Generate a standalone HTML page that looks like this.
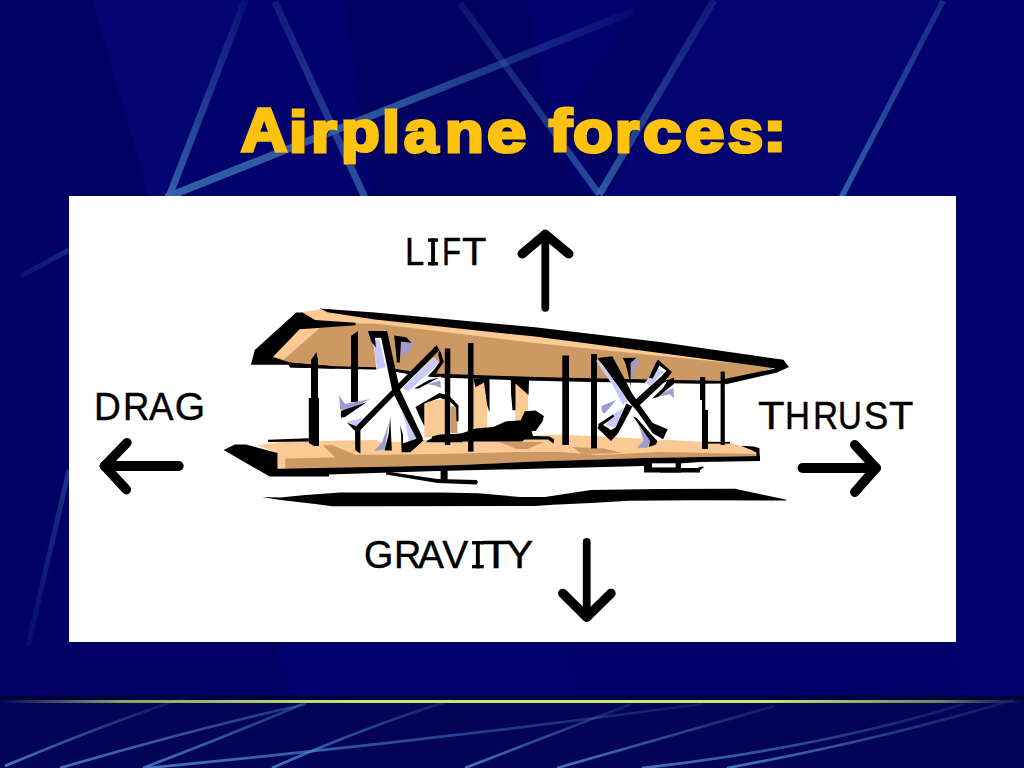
<!DOCTYPE html>
<html><head><meta charset="utf-8">
<style>
html,body{margin:0;padding:0;}
body{width:1024px;height:768px;overflow:hidden;background:#02026e;position:relative;font-family:"Liberation Sans",sans-serif;}
#bg{position:absolute;left:0;top:0;width:1024px;height:768px;}
#box{position:absolute;left:69px;top:196px;width:887px;height:446px;background:#fff;}
#art{position:absolute;left:0;top:0;width:1024px;height:768px;}
.ttl{position:absolute;white-space:nowrap;font-weight:bold;font-size:62px;line-height:62px;color:#ffc20e;transform-origin:0 0;
 -webkit-text-stroke:3.4px #ffc20e;text-shadow:2px 2px 0 #00001a;}
.lb{position:absolute;white-space:nowrap;font-size:39px;line-height:39px;color:#000;transform-origin:0 0;-webkit-text-stroke:0.45px #000;}
</style></head><body>
<svg id="bg" viewBox="0 0 1024 768">
<!--BG-->
<defs><linearGradient id="g1" gradientUnits="userSpaceOnUse" x1="245.3" y1="0" x2="168.5" y2="198"><stop offset="0" stop-color="#3565ab" stop-opacity="0.12"/><stop offset="0.5" stop-color="#3565ab" stop-opacity="0.55"/><stop offset="1" stop-color="#3565ab" stop-opacity="0.95"/></linearGradient><linearGradient id="g2" gradientUnits="userSpaceOnUse" x1="275" y1="2" x2="366" y2="200"><stop offset="0" stop-color="#3565ab" stop-opacity="0.25"/><stop offset="1" stop-color="#3565ab" stop-opacity="0.80"/></linearGradient><linearGradient id="g3" gradientUnits="userSpaceOnUse" x1="166" y1="197.5" x2="634" y2="11"><stop offset="0" stop-color="#3565ab" stop-opacity="0.95"/><stop offset="0.5" stop-color="#3565ab" stop-opacity="0.80"/><stop offset="1" stop-color="#3565ab" stop-opacity="0.08"/></linearGradient><linearGradient id="g4" gradientUnits="userSpaceOnUse" x1="460" y1="3" x2="599.3" y2="194.5"><stop offset="0" stop-color="#3565ab" stop-opacity="0.20"/><stop offset="1" stop-color="#3565ab" stop-opacity="0.75"/></linearGradient><linearGradient id="g5" gradientUnits="userSpaceOnUse" x1="714" y1="0" x2="599.3" y2="194.5"><stop offset="0" stop-color="#3565ab" stop-opacity="0.25"/><stop offset="1" stop-color="#3565ab" stop-opacity="0.85"/></linearGradient><linearGradient id="g6" gradientUnits="userSpaceOnUse" x1="943" y1="1" x2="841" y2="198"><stop offset="0" stop-color="#3565ab" stop-opacity="0.40"/><stop offset="1" stop-color="#3565ab" stop-opacity="0.90"/></linearGradient><linearGradient id="g7" gradientUnits="userSpaceOnUse" x1="21" y1="276" x2="69" y2="250"><stop offset="0" stop-color="#3565ab" stop-opacity="0.15"/><stop offset="1" stop-color="#3565ab" stop-opacity="0.40"/></linearGradient><linearGradient id="g8" gradientUnits="userSpaceOnUse" x1="69" y1="470" x2="28" y2="646"><stop offset="0" stop-color="#3565ab" stop-opacity="0.50"/><stop offset="1" stop-color="#3565ab" stop-opacity="0.10"/></linearGradient><linearGradient id="g9" gradientUnits="userSpaceOnUse" x1="5" y1="766" x2="190" y2="696"><stop offset="0" stop-color="#5088d4" stop-opacity="0.85"/><stop offset="1" stop-color="#5088d4" stop-opacity="0.05"/></linearGradient><linearGradient id="g10" gradientUnits="userSpaceOnUse" x1="60" y1="768" x2="306" y2="704"><stop offset="0" stop-color="#5088d4" stop-opacity="0.80"/><stop offset="1" stop-color="#5088d4" stop-opacity="0.35"/></linearGradient><linearGradient id="g11" gradientUnits="userSpaceOnUse" x1="143" y1="768" x2="303" y2="704"><stop offset="0" stop-color="#5088d4" stop-opacity="0.80"/><stop offset="1" stop-color="#5088d4" stop-opacity="0.35"/></linearGradient><linearGradient id="g12" gradientUnits="userSpaceOnUse" x1="147" y1="768" x2="702" y2="704"><stop offset="0" stop-color="#5088d4" stop-opacity="0.85"/><stop offset="1" stop-color="#5088d4" stop-opacity="0.15"/></linearGradient><linearGradient id="g13" gradientUnits="userSpaceOnUse" x1="272" y1="768" x2="452" y2="700"><stop offset="0" stop-color="#5088d4" stop-opacity="0.85"/><stop offset="1" stop-color="#5088d4" stop-opacity="0.15"/></linearGradient><linearGradient id="g14" gradientUnits="userSpaceOnUse" x1="465" y1="768" x2="631" y2="704"><stop offset="0" stop-color="#5088d4" stop-opacity="0.85"/><stop offset="1" stop-color="#5088d4" stop-opacity="0.15"/></linearGradient><linearGradient id="g15" gradientUnits="userSpaceOnUse" x1="557" y1="768" x2="775" y2="706"><stop offset="0" stop-color="#5088d4" stop-opacity="0.85"/><stop offset="1" stop-color="#5088d4" stop-opacity="0.15"/></linearGradient><linearGradient id="g16" gradientUnits="userSpaceOnUse" x1="642" y1="768" x2="964" y2="704"><stop offset="0" stop-color="#5088d4" stop-opacity="0.85"/><stop offset="1" stop-color="#5088d4" stop-opacity="0.15"/></linearGradient><linearGradient id="g17" gradientUnits="userSpaceOnUse" x1="727" y1="768" x2="1013" y2="700"><stop offset="0" stop-color="#5088d4" stop-opacity="0.85"/><stop offset="1" stop-color="#5088d4" stop-opacity="0.10"/></linearGradient><linearGradient id="gl" x1="0" y1="0" x2="1" y2="0"><stop offset="0" stop-color="#c8e878" stop-opacity="0"/><stop offset="0.12" stop-color="#aedb6e" stop-opacity="0.75"/><stop offset="0.35" stop-color="#c2e878" stop-opacity="1"/><stop offset="0.75" stop-color="#c2e878" stop-opacity="1"/><stop offset="0.92" stop-color="#aedb6e" stop-opacity="0.6"/><stop offset="1" stop-color="#aedb6e" stop-opacity="0"/></linearGradient></defs>
<polygon points="5,0 92,0 150,200 69,200 69,642 275,642 290,697 0,697 0,0" fill="#000040" fill-opacity="0.2"/>
<polygon points="565,642 950,642 962,697 578,697" fill="#000040" fill-opacity="0.1"/>
<polygon points="345,0 526,0 556,150 590,200 372,200" fill="#000040" fill-opacity="0.25"/>
<polygon points="640,0 715,0 605,200 560,120" fill="#000040" fill-opacity="0.18"/>
<polygon points="92,0 245,0 167,200 150,200" fill="#1030a0" fill-opacity="0.1"/>
<polygon points="715,0 945,0 845,200 605,200" fill="#1030a0" fill-opacity="0.07"/>
<line x1="245.3" y1="0" x2="168.5" y2="198" stroke="url(#g1)" stroke-width="7"/>
<line x1="275" y1="2" x2="366" y2="200" stroke="url(#g2)" stroke-width="7"/>
<line x1="166" y1="197.5" x2="634" y2="11" stroke="url(#g3)" stroke-width="7.5"/>
<line x1="460" y1="3" x2="599.3" y2="194.5" stroke="url(#g4)" stroke-width="6.5"/>
<line x1="714" y1="0" x2="599.3" y2="194.5" stroke="url(#g5)" stroke-width="7"/>
<line x1="943" y1="1" x2="841" y2="198" stroke="url(#g6)" stroke-width="5.5"/>
<line x1="21" y1="276" x2="69" y2="250" stroke="url(#g7)" stroke-width="5"/>
<line x1="69" y1="470" x2="28" y2="646" stroke="url(#g8)" stroke-width="5"/>
<rect x="0" y="697" width="1024" height="71" fill="#030358"/>
<rect x="0" y="695.5" width="1024" height="4.5" fill="#000028" fill-opacity="0.6"/>
<path d="M5 766 Q110 722 190 696" fill="none" stroke="url(#g9)" stroke-width="2.7"/>
<path d="M60 768 Q190 730 306 704" fill="none" stroke="url(#g10)" stroke-width="2.7"/>
<path d="M143 768 Q230 735 303 704" fill="none" stroke="url(#g11)" stroke-width="2.7"/>
<path d="M147 768 Q420 742 702 704" fill="none" stroke="url(#g12)" stroke-width="2.7"/>
<path d="M272 768 Q370 725 452 700" fill="none" stroke="url(#g13)" stroke-width="2.7"/>
<path d="M465 768 Q550 735 631 704" fill="none" stroke="url(#g14)" stroke-width="2.7"/>
<path d="M557 768 Q680 733 775 706" fill="none" stroke="url(#g15)" stroke-width="2.7"/>
<path d="M642 768 Q820 748 964 704" fill="none" stroke="url(#g16)" stroke-width="2.7"/>
<path d="M727 768 Q880 740 1013 700" fill="none" stroke="url(#g17)" stroke-width="2.7"/>
<rect x="0" y="700" width="1024" height="3" fill="url(#gl)"/>
<!--/BG-->
</svg>
<div id="box"></div>
<svg id="art" viewBox="0 0 1024 768">
<!--PLANE-->
<polygon fill="#000" points="262.0,497.0 280.6,497.5 302.5,495.3 340.0,492.6 375.0,492.4 440.0,492.6 478.0,493.2 520.0,497.0 545.0,497.0 591.0,490.0 660.0,489.0 735.0,488.8 786.6,499.7 786.0,500.5 695.0,500.3 629.0,500.8 591.0,503.0 553.0,504.7 535.0,506.0 375.0,506.3 332.0,506.3 315.0,504.0 280.6,500.0"/>
<polygon fill="#fbc993" points="257.0,445.3 288.0,441.4 375.0,440.0 470.0,440.0 535.0,435.6 560.0,434.6 660.0,439.5 705.0,442.0 730.0,442.7 741.0,445.8 759.0,451.3 760.0,456.0 644.0,458.0 535.0,461.5 460.0,465.0 375.0,467.0 277.5,468.8 277.5,453.0"/>
<polygon fill="#cc9864" points="285.3,458.6 335.3,457.5 322.8,445.3 332.2,445.3 355.6,454.7 375.0,454.7 375.0,468.8 285.3,468.8"/>
<polygon fill="#cc9864" points="375.0,454.7 440.0,454.0 520.0,452.0 560.0,452.0 600.0,455.0 640.0,453.0 660.0,452.0 760.0,454.0 760.0,456.0 644.0,458.0 535.0,461.5 460.0,465.0 375.0,467.0"/>
<polygon fill="#cc9864" points="498.8,442.0 543.9,442.0 527.5,448.9 516.6,448.9"/>
<polygon fill="#cc9864" points="572.5,446.9 603.8,448.4 622.5,453.1 581.9,453.9"/>
<polygon fill="#000" points="223.6,450.0 235.0,444.5 246.0,444.5 277.5,453.0 277.5,468.8 375.0,467.0 460.0,465.0 535.0,461.5 644.0,458.0 760.0,456.0 760.0,461.0 700.0,462.0 644.0,466.0 535.0,468.8 437.0,471.0 375.0,473.0 329.0,474.5 329.0,476.6 269.7,476.6"/>
<polygon fill="#000" points="741.0,445.8 753.8,446.6 759.5,448.2 759.5,461.0 756.5,461.0 756.5,452.5 750.0,449.6"/>
<polygon fill="#000" points="268.1,439.8 308.8,438.3 308.8,441.4 268.1,441.9"/>
<polygon fill="#000" points="386.0,471.5 437.5,479.0 476.5,480.0 478.0,482.0 476.5,484.5 437.5,483.0 386.0,474.5"/>
<polygon fill="#000" points="440.6,470.0 447.6,470.0 447.6,482.0 440.6,482.0"/>
<polygon fill="#000" points="644.0,458.0 681.0,458.0 681.0,472.6 644.0,472.6"/>
<polygon fill="#fff" points="652.0,463.3 675.6,463.3 675.6,467.4 652.0,467.4"/>
<polygon fill="#000" points="660.0,468.0 700.0,468.0 700.0,472.4 660.0,472.4"/>
<polygon fill="#000" points="697.0,472.4 704.5,466.8 700.0,466.8 694.0,470.0"/>
<polygon fill="#fbc993" points="473.5,380.5 487.2,380.5 487.2,428.4 473.5,428.4"/>
<polygon fill="#cc9864" points="485.1,381.9 489.2,381.9 489.2,412.0 487.2,405.1"/>
<polygon fill="#000" points="473.5,379.1 489.5,379.1 489.5,412.6 487.2,405.1 484.0,382.6 475.5,387.3"/>
<polygon fill="#fbc993" points="515.2,382.6 528.2,382.6 528.2,420.2 515.2,420.2"/>
<polygon fill="#000" points="510.8,379.1 529.1,379.1 528.5,394.9 515.5,383.5 515.5,410.3 512.5,410.3 511.1,394.2"/>
<polygon fill="#fbc993" points="424.3,402.1 446.2,398.7 446.2,434.9 424.3,437.6"/>
<polygon fill="#cc9864" points="451.0,406.2 457.4,406.2 457.4,433.1 451.0,433.1"/>
<polygon fill="#000" points="415.5,406.9 439.4,392.9 449.2,395.7 458.5,405.5 458.5,421.2 456.5,421.2 456.1,407.6 448.7,400.3 439.4,398.0 424.3,403.5 424.3,426.0 420.2,417.8"/>
<polygon fill="#000" points="431.8,436.6 440.0,434.5 460.5,433.8 475.5,428.4 493.3,427.0 505.6,421.5 520.7,420.2 524.8,411.3 535.7,410.6 543.9,416.1 542.5,421.5 535.7,431.1 531.6,431.1 533.0,435.9 549.4,436.6 554.2,439.3 553.5,443.4 548.0,439.6 524.8,439.6 522.0,441.6 431.8,441.6"/>
<polygon fill="#000" points="426.6,440.9 437.5,435.2 462.5,433.6 462.5,442.2 426.6,442.2"/>
<polygon fill="#cc9864" points="299.4,327.5 355.6,322.0 375.0,320.6 535.0,340.0 695.0,356.5 775.6,367.4 726.0,382.5 700.0,381.5 580.0,379.0 440.0,375.0 418.0,373.5 385.0,368.5 335.0,367.0 290.0,363.0 273.0,357.0"/>
<polygon fill="#fbc993" points="300.2,328.9 319.7,328.1 283.8,359.4 273.6,356.6"/>
<polygon fill="#fbc993" points="300.2,312.2 319.7,309.6 327.5,311.7 375.0,318.8 535.0,336.0 660.0,352.8 745.0,364.3 695.0,359.5 535.0,343.0 375.0,323.6 355.6,323.4 315.0,320.3"/>
<polygon fill="#000" points="319.7,308.6 375.0,312.5 535.0,327.3 660.0,341.9 783.4,359.8 789.0,366.9 777.0,372.6 726.0,384.2 721.0,379.8 775.6,368.4 660.0,353.0 535.0,336.6 375.0,319.6 327.5,312.2"/>
<polygon fill="#000" points="250.9,364.8 254.8,350.0 296.2,312.5 302.5,312.5 315.0,320.0 355.6,322.7 355.6,325.3 299.4,329.2 272.8,357.0 290.0,362.5 335.3,366.4 335.3,368.8 290.0,367.2 288.4,364.8"/>
<polygon fill="#000" points="290.0,363.0 335.3,366.2 385.0,367.6 418.0,372.3 440.0,373.8 535.0,377.0 580.0,378.0 700.0,380.5 726.0,381.0 726.0,383.5 700.0,383.7 580.0,381.8 535.0,380.8 440.0,377.6 418.0,375.9 385.0,369.8 335.3,368.7 290.0,367.5"/>
<polygon fill="#000" points="311.0,360.0 316.5,352.3 318.0,360.0 318.0,398.0 319.0,398.0 319.0,446.0 314.0,446.0 308.8,443.0 308.8,398.0 311.0,398.0"/>
<polygon fill="#000" points="351.0,336.0 358.0,331.0 358.0,402.0 351.0,402.0"/>
<polygon fill="#000" points="444.8,348.5 450.3,348.5 450.3,445.0 444.8,445.0"/>
<polygon fill="#000" points="468.0,343.0 473.5,343.0 473.5,451.6 468.0,451.6"/>
<polygon fill="#000" points="562.3,355.5 569.0,355.5 569.0,445.0 562.3,445.0"/>
<polygon fill="#000" points="591.0,354.0 597.0,354.0 597.0,448.4 591.0,448.4"/>
<polygon fill="#000" points="700.0,377.0 705.3,377.0 705.3,410.0 708.0,410.0 708.0,449.0 702.0,449.0 702.0,400.0 700.0,400.0"/>
<polygon fill="#000" points="720.6,371.6 724.8,371.6 724.8,445.0 720.6,445.0"/>
<polygon fill="#000" points="705.0,441.8 730.0,441.8 730.0,443.6 705.0,443.6"/>
<polygon fill="#fff" points="373.1,338.5 381.5,337.7 393.4,390.2 385.8,396.1 376.5,369.9"/>
<polygon fill="#fff" points="434.0,357.2 439.1,363.1 429.8,375.8 406.1,392.7 397.6,390.2"/>
<polygon fill="#fff" points="390.9,391.9 399.3,396.1 359.5,429.9 346.0,422.3 365.5,404.6"/>
<polygon fill="#fff" points="395.9,396.1 402.7,392.7 420.5,437.6 409.5,451.1 402.7,451.1 401.9,426.6 390.9,413.0"/>
<polygon fill="#fff" points="385.8,396.1 402.7,399.5 402.7,441.8 377.3,441.8"/>
<polygon fill="#c8c8fa" points="373.1,339.4 379.3,339.4 385.8,367.3 377.0,369.3"/>
<polygon fill="#c8c8fa" points="434.0,357.5 438.6,363.1 407.8,391.9 402.7,388.0"/>
<polygon fill="#c8c8fa" points="390.0,392.4 394.6,396.1 360.1,428.6 347.2,421.8 363.8,417.8"/>
<polygon fill="#c8c8fa" points="398.0,399.5 402.4,404.6 417.9,436.7 409.5,445.5 406.1,424.9"/>
<polygon fill="#9c9cd2" points="400.2,341.9 414.6,342.8 401.4,359.7"/>
<polygon fill="#000" points="394.2,335.5 406.1,337.2 411.5,342.8 401.0,341.6 399.7,362.6 396.9,362.6"/>
<polygon fill="#fff" points="414.6,388.0 427.2,379.2 440.8,376.6 440.8,388.5 427.2,384.2"/>
<polygon fill="#9c9cd2" points="427.2,384.2 440.3,380.5 441.0,388.0 434.9,385.6"/>
<polygon fill="#000" points="414.2,388.5 428.9,380.0 438.6,377.8 430.6,382.2 418.3,388.5"/>
<polygon fill="#000" points="368.0,330.9 387.1,330.9 399.8,389.3 423.0,438.4 417.4,440.4 394.6,396.1 392.2,391.0 381.2,337.7 374.9,337.7 376.0,347.3 371.4,341.9"/>
<polygon fill="#000" points="436.6,345.0 441.3,353.4 443.7,361.9 435.9,373.4 427.2,376.8 434.5,369.3 439.9,361.6 438.2,354.8 439.1,350.4 399.3,390.2 360.4,429.9 360.4,453.6 355.3,450.3 355.0,431.0 346.8,422.5 356.3,426.2 391.7,390.2"/>
<polygon fill="#000" points="420.5,435.9 423.4,440.4 410.3,452.3 402.7,452.3 402.4,443.5 416.6,438.7"/>
<polygon fill="#000" points="400.2,424.9 403.0,435.0 403.0,452.3 401.7,452.3 401.0,435.0"/>
<polygon fill="#9c9cd2" points="338.9,395.3 345.0,404.1 371.0,398.7 347.8,409.9 340.3,409.9"/>
<polygon fill="#000" points="340.9,411.0 366.9,402.1 345.0,417.1 340.9,417.8"/>
<polygon fill="#9c9cd2" points="388.8,423.3 385.0,449.3 373.8,450.9 382.0,442.4"/>
<polygon fill="#000" points="390.2,416.4 391.8,450.6 384.7,450.6 388.8,432.9"/>
<polygon fill="#fff" points="596.1,359.8 603.2,365.6 617.6,385.2 628.0,400.8 613.0,414.5 598.0,424.2 616.2,429.4 628.0,406.0 637.1,412.5 652.7,433.3 663.1,439.8 657.9,441.1 636.4,417.7 624.1,407.3 611.0,382.6"/>
<polygon fill="#fff" points="657.9,363.0 668.3,372.1 637.1,403.4 629.3,402.1 648.8,378.0"/>
<polygon fill="#fff" points="664.4,382.6 668.3,380.6 652.7,395.6 650.1,394.3"/>
<polygon fill="#fff" points="628.0,404.7 616.2,429.4 601.9,424.2 613.0,415.1"/>
<polygon fill="#c8c8fa" points="595.7,360.2 603.2,365.9 617.6,385.4 627.7,401.0 623.0,404.9 611.7,383.2"/>
<polygon fill="#c8c8fa" points="656.0,367.2 663.4,371.6 650.1,386.7 646.2,382.6"/>
<polygon fill="#c8c8fa" points="613.0,414.1 624.1,407.6 615.2,428.1 605.8,424.5"/>
<polygon fill="#9c9cd2" points="601.3,406.0 616.2,400.1 604.5,413.8 601.9,411.2"/>
<polygon fill="#9c9cd2" points="630.6,359.8 639.7,359.8 637.1,364.6 631.9,380.2"/>
<polygon fill="#9c9cd2" points="663.1,393.0 673.5,387.8 673.8,398.2 669.6,394.3 657.9,396.9"/>
<polygon fill="#9c9cd2" points="637.1,422.9 650.1,441.1 647.5,447.7 637.1,447.7 643.6,441.1 639.7,428.1"/>
<polygon fill="#000" points="597.4,358.1 612.3,356.2 624.1,378.0 631.9,393.0 639.7,404.7 652.7,422.9 667.7,429.2 663.1,439.2 652.7,433.3 637.1,411.2 628.0,400.8 617.6,385.2 603.2,365.6"/>
<polygon fill="#000" points="648.8,378.0 656.0,362.4 658.6,359.8 660.8,363.0 652.7,378.4"/>
<polygon fill="#000" points="657.9,359.8 672.0,371.9 663.8,382.6 639.7,405.3 635.1,400.1 661.8,376.0 666.4,370.8 656.0,363.0"/>
<polygon fill="#000" points="626.4,403.6 632.5,406.2 618.2,433.3 611.0,441.1 597.4,428.1 600.0,422.9 611.0,430.1 615.6,427.5"/>
<polygon fill="#000" points="598.0,424.2 613.0,414.5 614.3,416.4 600.6,426.8"/>
<polygon fill="#000" points="668.3,379.9 673.8,377.6 673.8,383.9 657.9,396.9 652.1,398.4 663.1,387.8"/>
<polygon fill="#000" points="622.8,358.1 636.4,357.8 630.6,363.0 630.6,387.8 628.6,376.0 625.4,363.0"/>
<polygon fill="#000" points="633.2,416.4 636.4,417.7 657.3,441.1 656.0,444.4 648.8,447.0 650.1,441.1"/>
<!--/PLANE-->
<g fill="none" stroke="#000" stroke-linecap="round" stroke-linejoin="round">
 <path stroke-width="7.8" d="M545.3 307.8V234"/><path stroke-width="9.4" d="M522.2 253.8L545.3 234.4L568.8 253.8"/>
 <path stroke-width="7.8" d="M586.7 542V617.5"/><path stroke-width="9.4" d="M562.8 593.4L586.7 617.2L611 593.4"/>
 <path stroke-width="9.8" d="M178.8 466H104.6"/><path stroke-width="9.6" d="M126.9 442.7L104.6 466L126.3 489.6"/>
 <path stroke-width="9.8" d="M802.5 468H876"/><path stroke-width="9.6" d="M854.8 444.7L876 468L854.8 492.1"/>
</g>
<g fill="#000"><!--I-->
<rect x="431.1" y="238.4" width="3.9" height="27"/><rect x="428" y="238.4" width="10" height="3.4"/><rect x="428" y="262" width="10" height="3.4"/>
<rect x="475.9" y="541.1" width="3.9" height="27.2"/><rect x="472" y="541.1" width="11.7" height="3.4"/><rect x="472" y="564.9" width="11.7" height="3.4"/>
</g>
</svg>
<!--TEXT-->
<span class="ttl" style="left:240.73px;top:100.46px;transform:scale(1.0348,0.9804)">A</span>
<span class="ttl" style="left:288.80px;top:102.66px;transform:scale(1.0667,0.9396)">i</span>
<span class="ttl" style="left:310.56px;top:103.00px;transform:scale(1.0696,0.9333)">r</span>
<span class="ttl" style="left:340.75px;top:103.09px;transform:scale(1.0229,0.9286)">p</span>
<span class="ttl" style="left:381.57px;top:102.66px;transform:scale(1.0417,0.9396)">l</span>
<span class="ttl" style="left:403.90px;top:102.70px;transform:scale(0.9919,0.9500)">a</span>
<span class="ttl" style="left:445.15px;top:103.00px;transform:scale(1.0235,0.9333)">n</span>
<span class="ttl" style="left:486.66px;top:102.70px;transform:scale(1.1364,0.9500)">e</span>
<span class="ttl" style="left:549.41px;top:102.10px;transform:scale(1.1065,0.9500)">f</span>
<span class="ttl" style="left:572.70px;top:102.70px;transform:scale(1.0514,0.9500)">o</span>
<span class="ttl" style="left:615.00px;top:103.00px;transform:scale(1.0000,0.9333)">r</span>
<span class="ttl" style="left:643.29px;top:102.70px;transform:scale(1.1091,0.9500)">c</span>
<span class="ttl" style="left:684.86px;top:102.70px;transform:scale(1.1439,0.9500)">e</span>
<span class="ttl" style="left:728.10px;top:102.70px;transform:scale(1.0206,0.9500)">s</span>
<span class="ttl" style="left:762.92px;top:103.21px;transform:scale(1.1458,0.9257)">:</span>
<span class="lb" style="left:404.53px;top:232.40px;transform:scale(0.8889,1.0000)">L</span>
<span class="lb" style="left:441.90px;top:232.40px;transform:scale(0.8000,1.0000)">F</span>
<span class="lb" style="left:461.67px;top:232.40px;transform:scale(1.0273,1.0000)">T</span>
<span class="lb" style="left:94.35px;top:386.63px;transform:scale(0.9500,1.0111)">D</span>
<span class="lb" style="left:123.10px;top:386.63px;transform:scale(0.9348,1.0111)">R</span>
<span class="lb" style="left:149.30px;top:386.63px;transform:scale(0.9404,1.0111)">A</span>
<span class="lb" style="left:174.70px;top:386.63px;transform:scale(1.0000,1.0111)">G</span>
<span class="lb" style="left:758.39px;top:396.43px;transform:scale(1.1136,1.0111)">T</span>
<span class="lb" style="left:785.24px;top:396.43px;transform:scale(0.8864,1.0111)">H</span>
<span class="lb" style="left:812.53px;top:396.43px;transform:scale(0.8913,1.0111)">R</span>
<span class="lb" style="left:838.06px;top:396.43px;transform:scale(0.8478,1.0111)">U</span>
<span class="lb" style="left:864.13px;top:396.43px;transform:scale(0.9348,1.0111)">S</span>
<span class="lb" style="left:889.38px;top:396.43px;transform:scale(1.0227,1.0111)">T</span>
<span class="lb" style="left:364.17px;top:535.06px;transform:scale(0.9654,1.0074)">G</span>
<span class="lb" style="left:393.79px;top:535.06px;transform:scale(0.9696,1.0074)">R</span>
<span class="lb" style="left:418.10px;top:535.06px;transform:scale(0.9962,1.0074)">A</span>
<span class="lb" style="left:442.20px;top:535.06px;transform:scale(1.0000,1.0074)">V</span>
<span class="lb" style="left:481.82px;top:535.06px;transform:scale(1.1818,1.0074)">T</span>
<span class="lb" style="left:506.05px;top:535.06px;transform:scale(1.0458,1.0074)">Y</span>
<!--/TEXT-->
</body></html>
